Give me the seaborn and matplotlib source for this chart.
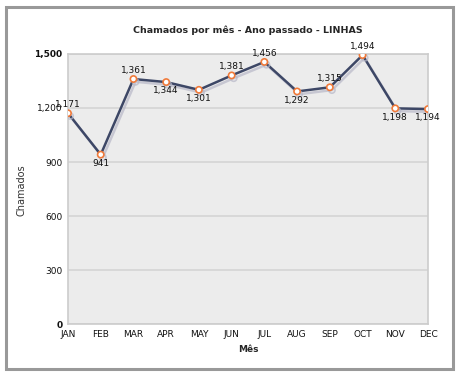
import matplotlib
matplotlib.use("Agg")
import matplotlib.pyplot as plt
import matplotlib.patheffects as pe
from matplotlib.patches import Rectangle
import seaborn as sns
import pandas as pd

months = ["JAN", "FEB", "MAR", "APR", "MAY", "JUN", "JUL", "AUG", "SEP", "OCT", "NOV", "DEC"]
values = [1171, 941, 1361, 1344, 1301, 1381, 1456, 1292, 1315, 1494, 1198, 1194]
label_pos = ["above", "below", "above", "below", "below", "above", "above", "below", "above", "above", "below", "below"]
yticks = [0, 300, 600, 900, 1200, 1500]
ytick_labels = ["0", "300", "600", "900", "1,200", "1,500"]
title = "Chamados por mês - Ano passado - LINHAS"
xlabel = "Mês"
ylabel = "Chamados"

sns.set_theme(style="white")
plt.rcParams['font.family'] = ['DejaVu Sans']

W, H = 460, 376
fig = plt.figure(figsize=(W / 100, H / 100), dpi=100)
fig.patch.set_facecolor("white")

# outer frame
fig.add_artist(Rectangle((6.5 / W, 1 - 368.5 / H), 447 / W, 362 / H, transform=fig.transFigure,
                         fill=False, edgecolor="#999999", linewidth=2.2))

x0, x1 = 68, 428
y0, y1 = 54, 324
ax = fig.add_axes([x0 / W, 1 - y1 / H, (x1 - x0) / W, (y1 - y0) / H])
ax.set_facecolor("#ececec")

df = pd.DataFrame({"idx": range(len(months)), "value": values})
sns.lineplot(data=df, x="idx", y="value", ax=ax, color="#3d4766", linewidth=1.8,
             marker="o", markersize=4.5, markerfacecolor="white", markeredgecolor="#f07a3a",
             markeredgewidth=1.2, zorder=5,
             path_effects=[pe.SimpleLineShadow(offset=(1.5, -2), shadow_color="#b8b8c8", alpha=0.7), pe.Normal()])

ax.set_xlim(0, len(months) - 1)
ax.set_ylim(0, 1500)
ax.set_yticks(yticks)
ax.set_yticklabels(ytick_labels)
ax.set_xticks(range(len(months)))
ax.set_xticklabels(months)
ax.grid(axis="y", color="#d4d4d4", linewidth=1.2)
ax.set_axisbelow(True)
for s in ax.spines.values():
    s.set_color("#cccccc")
    s.set_linewidth(1.2)
ax.tick_params(axis="both", length=0, labelsize=6.5, colors="#111111")
ax.tick_params(axis="x", pad=4)
ax.tick_params(axis="y", pad=4)
for lbl in ax.get_yticklabels():
    if lbl.get_text() in ("0", "1,500"):
        lbl.set_fontweight("bold")

for i, (v, p) in enumerate(zip(values, label_pos)):
    dy = 3 if p == "above" else -3
    ax.annotate(f"{v:,}", (i, v), xytext=(0, dy), textcoords="offset points",
                ha="center", va="bottom" if p == "above" else "top", fontsize=6.5, color="#111111", zorder=6)

ax.set_xlabel(xlabel, fontsize=6.5, fontweight="bold", labelpad=5)
ax.set_ylabel("")
fig.text(22 / W, 1 - 190 / H, ylabel, ha="center", va="center", rotation=90, fontsize=7, color="#333333")
fig.text((x0 + x1) / 2 / W, 1 - 30 / H, title, ha="center", va="center", fontsize=6.8, fontweight="bold")

fig.savefig("out.png", dpi=100)
